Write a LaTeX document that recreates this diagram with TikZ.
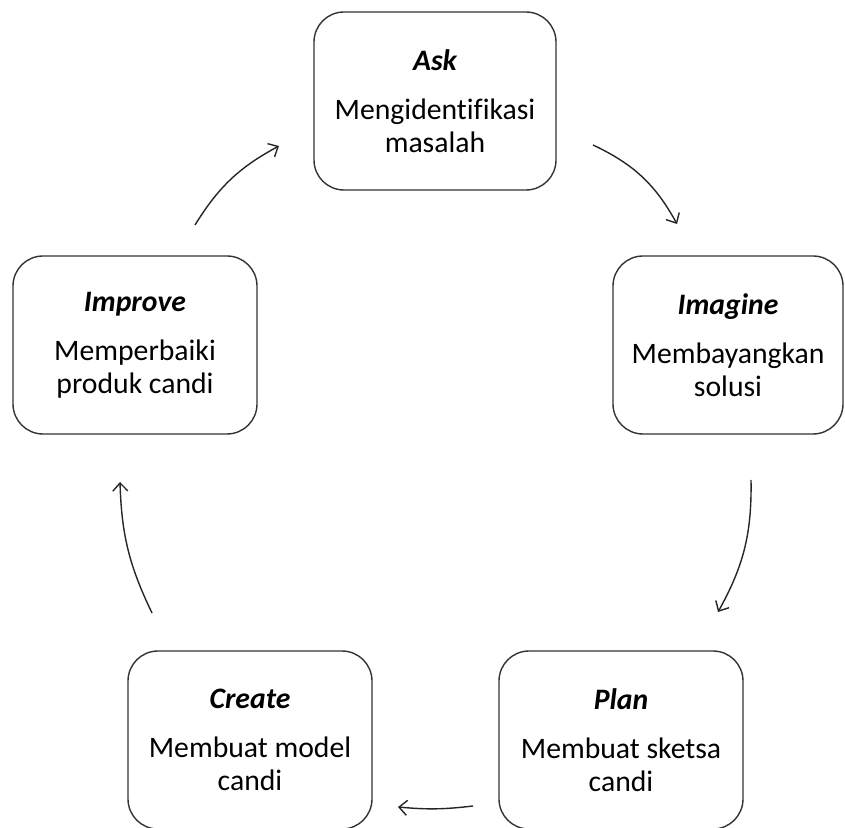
\documentclass[tikz,border=0pt]{standalone}
\usepackage{fontspec}
\setmainfont{Carlito}[Ligatures=NoCommon]
\usetikzlibrary{arrows.meta}

\newcommand{\steptitle}[1]{{\bfseries\itshape #1}}

\begin{document}
\begin{tikzpicture}[x=1pt,y=1pt,
    stage/.style={draw=black!80, line width=1.4pt, rounded corners=30pt,
        minimum width=244pt, minimum height=178pt, align=center,
        font=\fontsize{29.7}{33}\selectfont},
    cycle/.style={draw=black!85, line width=1.4pt,
        -{Straight Barb[length=8pt,width=15pt]}}]
            \useasboundingbox (0,0) rectangle (845,827);
            \clip (0,0) rectangle (845,827);
            % the five steps
            \node[stage, minimum width=242pt] (ask) at (435,726) {\steptitle{Ask}\\[16pt]Mengidentifikasi\\masalah};
            \node[stage, minimum width=230pt] (imagine) at (728,482) {\steptitle{Imagine}\\[16pt]Membayangkan\\solusi};
            \node[stage] (plan) at (621,87) {\steptitle{Plan}\\[16pt]Membuat sketsa\\candi};
            \node[stage] (create) at (250,87) {\steptitle{Create}\\[16pt]Membuat model\\candi};
            \node[stage] (improve) at (135,482) {\steptitle{Improve}\\[16pt]Memperbaiki\\produk candi};
            % arrow ends
            \coordinate (askout) at (593,682);
            \coordinate (imaginein) at (677,603);
            \coordinate (imagineout) at (751,347);
            \coordinate (planin) at (718,215);
            \coordinate (planout) at (473,21);
            \coordinate (createin) at (398,20);
            \coordinate (createout) at (152,214);
            \coordinate (improvein) at (120,345);
            \coordinate (improveout) at (195,602);
            \coordinate (askin) at (279,681);
            \draw[cycle] (askout) to[bend left=18] (imaginein);
            \draw[cycle] (imagineout) to[bend left=15] (planin);
            \draw[cycle] (planout) to[bend left=6] (createin);
            \draw[cycle] (createout) to[bend left=12] (improvein);
            \draw[cycle] (improveout) to[bend left=15] (askin);
        \end{tikzpicture}
\end{document}
